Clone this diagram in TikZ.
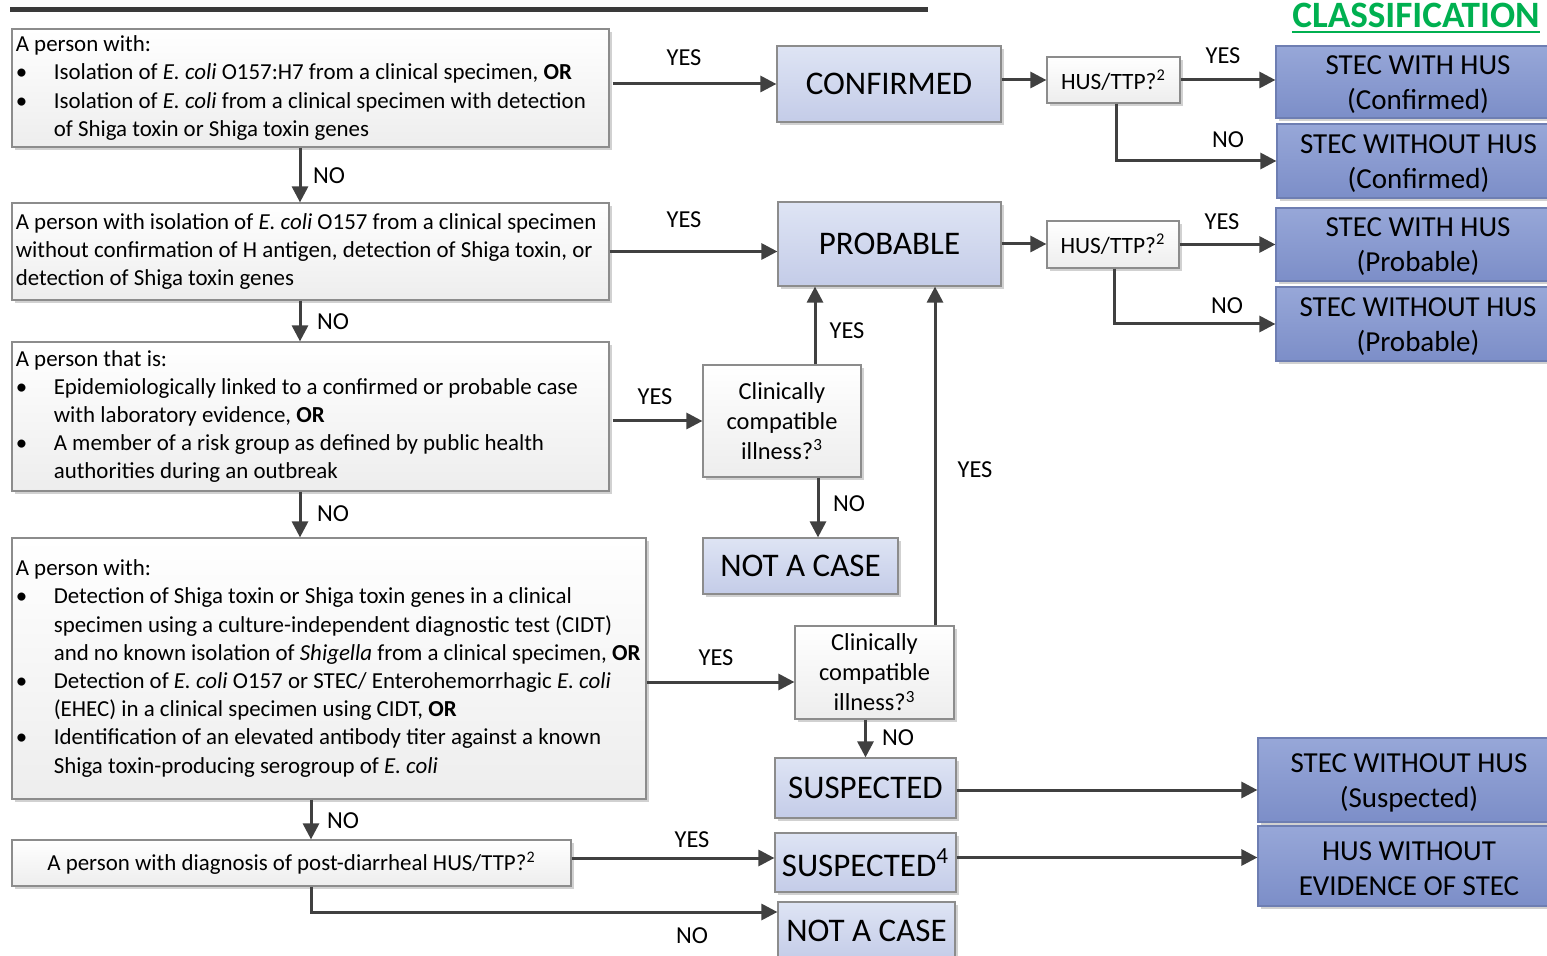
\documentclass[tikz,border=0pt]{standalone}
\usepackage{fontspec}
\setmainfont{Carlito}
\usetikzlibrary{arrows.meta,shadows,calc}
\definecolor{arrc}{HTML}{404040}
\definecolor{gbord}{HTML}{8C8C8C}
\definecolor{lbtop}{HTML}{DEE4F4}
\definecolor{lbbot}{HTML}{C4CCE8}
\definecolor{dbtop}{HTML}{97A7D8}
\definecolor{dbbot}{HTML}{7C8EC8}
\definecolor{dbord}{HTML}{6E7EB2}
\definecolor{clsgreen}{HTML}{00B050}
\newcommand{\mybul}{\makebox[19pt][l]{\textbullet}}
\newcommand{\myind}{\hspace*{19pt}}
\newcommand{\dstrut}{\rule{0pt}{11.9pt}}
\begin{document}
\begin{tikzpicture}[x=0.5pt,y=-0.5pt,
  shad/.style={drop shadow={shadow xshift=1.5pt,shadow yshift=-1.5pt,fill=black,opacity=0.18}},
  gbox/.style={draw=gbord, line width=0.6pt, top color=white, bottom color=gray!14, shad, inner sep=0pt},
  lbox/.style={draw=gbord, line width=0.6pt, top color=lbtop, bottom color=lbbot, shad, inner sep=0pt},
  dbox/.style={draw=dbord, line width=0.6pt, top color=dbtop, bottom color=dbbot, shad, inner sep=0pt},
  body/.style={font=\fontsize{11.45}{14.1}\selectfont, align=left, inner sep=0pt, anchor=west},
  big/.style={font=\fontsize{16.5}{19}\selectfont},
  dtext/.style={font=\fontsize{14.5}{17.5}\selectfont, align=center},
  ctext/.style={font=\fontsize{12.2}{15}\selectfont, align=center},
  htext/.style={font=\fontsize{11.7}{14}\selectfont},
  lab/.style={font=\fontsize{12.2}{14}\selectfont, inner sep=0pt},
  arr/.style={draw=arrc, line width=1.5pt, -{Triangle[length=8pt,width=8pt]}},
  plain/.style={draw=arrc, line width=1.5pt}]
\useasboundingbox (0,0) rectangle (1547,956);
\clip (0,0) rectangle (1547,956);
% top rule
\draw[line width=2.5pt, draw=arrc!90!black] (10,10) -- (928,10);
% heading
\node[inner sep=0pt, text=clsgreen, font=\fontsize{18.6}{20}\selectfont\bfseries] (cls) at (1416,15) {CLASSIFICATION};
\draw[clsgreen, line width=1pt] ([yshift=-2.3pt]cls.base west) -- ([yshift=-2.3pt]cls.base east);

% left boxes
\node[gbox, minimum width=298.5pt, minimum height=59pt] (b1) at (310.5,88) {};
\node[body] (b1t) at ([xshift=2pt]b1.west) {A person with:\\
\mybul Isolation of \textit{E. coli} O157:H7 from a clinical specimen, \textbf{OR}\\
\mybul Isolation of \textit{E. coli} from a clinical specimen with detection\\
\myind of Shiga toxin or Shiga toxin genes};

\node[gbox, minimum width=298.5pt, minimum height=48.5pt] (b2) at (310.5,251.5) {};
\node[body] (b2t) at ([xshift=2pt]b2.west) {A person with isolation of \textit{E. coli} O157 from a clinical specimen\\
without confirmation of H antigen, detection of Shiga toxin, or\\
detection of Shiga toxin genes};

\node[gbox, minimum width=298.5pt, minimum height=74.5pt] (b3) at (310.5,416.5) {};
\node[body] (b3t) at ([xshift=2pt]b3.west) {A person that is:\\
\mybul Epidemiologically linked to a confirmed or probable case\\
\myind with laboratory evidence, \textbf{OR}\\
\mybul A member of a risk group as defined by public health\\
\myind authorities during an outbreak};

\node[gbox, minimum width=317pt, minimum height=130.5pt] (b4) at (329,668.5) {};
\node[body] (b4t) at ([xshift=2pt]b4.west) {A person with:\\
\mybul Detection of Shiga toxin or Shiga toxin genes in a clinical\\
\myind specimen using a culture-independent diagnostic test (CIDT)\\
\myind and no known isolation of \textit{Shigella} from a clinical specimen, \textbf{OR}\\
\mybul Detection of \textit{E. coli} O157 or STEC/ Enterohemorrhagic \textit{E. coli}\\
\myind (EHEC) in a clinical specimen using CIDT, \textbf{OR}\\
\mybul Identification of an elevated antibody titer against a known\\
\myind Shiga toxin-producing serogroup of \textit{E. coli}};

\node[gbox, minimum width=279.5pt, minimum height=23pt, font=\fontsize{11.45}{14.1}\selectfont] (b5) at (291.5,863) {A person with diagnosis of post-diarrheal HUS/TTP?\textsuperscript{2}};

% question boxes
\node[gbox, ctext, minimum width=79pt, minimum height=56pt] (c1) at (782,421) {Clinically\\compatible\\illness?\textsuperscript{3}};
\node[gbox, ctext, minimum width=79.5pt, minimum height=46.5pt] (c2) at (874.5,672.5) {Clinically\\compatible\\illness?\textsuperscript{3}};
\node[gbox, htext, minimum width=66.5pt, minimum height=23pt] (h1) at (1113.5,80) {HUS/TTP?\textsuperscript{2}};
\node[gbox, htext, minimum width=66pt, minimum height=23.5pt] (h2) at (1113,244.5) {HUS/TTP?\textsuperscript{2}};

% light blue boxes
\node[lbox, big, minimum width=112pt, minimum height=38pt] (conf) at (889,84) {CONFIRMED};
\node[lbox, big, minimum width=111.5pt, minimum height=42pt] (prob) at (889.5,244) {PROBABLE};
\node[lbox, big, minimum width=97.5pt, minimum height=28pt] (nac1) at (800.5,566) {NOT A CASE};
\node[lbox, big, minimum width=90.5pt, minimum height=30pt] (sus1) at (865.5,788) {SUSPECTED};
\node[lbox, big, minimum width=90.5pt, minimum height=29.5pt] (sus2) at (865.5,862.5) {SUSPECTED\textsuperscript{4}};
\node[lbox, big, minimum width=88.5pt, minimum height=29pt] (nac2) at (866.5,931) {NOT A CASE};

% dark blue boxes
\node[dbox, dtext, minimum width=142pt, minimum height=36pt] (d1) at (1418,82) {\dstrut STEC WITH HUS\\(Confirmed)};
\node[dbox, dtext, minimum width=141.5pt, minimum height=37pt] (d2) at (1418.5,161) {\dstrut STEC WITHOUT HUS\\(Confirmed)};
\node[dbox, dtext, minimum width=142pt, minimum height=36.5pt] (d3) at (1418,244.5) {\dstrut STEC WITH HUS\\(Probable)};
\node[dbox, dtext, minimum width=142pt, minimum height=37pt] (d4) at (1418,324) {\dstrut STEC WITHOUT HUS\\(Probable)};
\node[dbox, dtext, minimum width=151pt, minimum height=42pt] (d5) at (1409,780) {\dstrut STEC WITHOUT HUS\\(Suspected)};
\node[dbox, dtext, minimum width=151pt, minimum height=40pt] (d6) at (1409,866) {\dstrut HUS WITHOUT\\EVIDENCE OF STEC};

% connectors
\draw[arr] ([xshift=1.5pt]b1.east |- conf.west) -- (conf.west);
\draw[arr] ([xshift=-5.25pt]b1.south) -- ([xshift=-5.25pt]b1.south |- b2.north);
\draw[arr] (b2.east) -- (b2.east -| prob.west);
\draw[arr] ([xshift=-5.25pt]b2.south) -- ([xshift=-5.25pt]b2.south |- b3.north);
\draw[arr] ([xshift=1.5pt]b3.east |- c1.west) -- (c1.west);
\draw[arr] ([xshift=16.5pt]c1.north) -- ([xshift=16.5pt]c1.north |- prob.south);
\draw[arr] ([xshift=18pt]c1.south) -- ([xshift=18pt]c1.south |- nac1.north);
\draw[arr] ([xshift=-5.25pt]b3.south) -- ([xshift=-5.25pt]b3.south |- b4.north);
\draw[arr] ([yshift=-4.75pt]c2.west -| b4.east) -- ([yshift=-4.75pt]c2.west);
\draw[arr] ([xshift=30.25pt]c2.north) -- ([xshift=30.25pt]c2.north |- prob.south);
\draw[arr] (sus1.north |- c2.south) -- (sus1.north);
\draw[arr] ([yshift=-1pt]sus1.east) -- ([yshift=-1pt]sus1.east -| d5.west);
\draw[arr] ([xshift=-9pt]b4.south) -- ([xshift=-9pt]b4.south |- b5.north);
\draw[arr] ([yshift=2.5pt]b5.east) -- ([yshift=2.5pt]b5.east -| sus2.west);
\draw[arr] ([xshift=9.75pt]b5.south) |- ([yshift=9.5pt]nac2.west);
\draw[arr] ([yshift=2.5pt]sus2.east) -- ([yshift=2.5pt]sus2.east -| d6.west);
\draw[arr] (conf.east |- h1.west) -- (h1.west);
\draw[arr] (h1.east) -- (h1.east -| d1.west);
\draw[arr] ([xshift=1.25pt]h1.south) |- (d2.west);
\draw[arr] (prob.east) -- (prob.east -| h2.west);
\draw[arr] (h2.east) -- (h2.east -| d3.west);
\draw[arr] ([xshift=0.5pt]h2.south) |- (d4.west);

% labels
\node[lab] (y1) at (684,58) {YES};
\node[lab] (n1) at (329,176) {NO};
\node[lab] (y2) at (684,220) {YES};
\node[lab] (n2) at (333,322) {NO};
\node[lab] (y3) at (655,397) {YES};
\node[lab] (y4) at (847,331) {YES};
\node[lab] (n3) at (849,504) {NO};
\node[lab] (n4) at (333,514) {NO};
\node[lab] (y5) at (716,658) {YES};
\node[lab] (y6) at (975,470) {YES};
\node[lab] (n5) at (898,738) {NO};
\node[lab] (n6) at (343,821) {NO};
\node[lab] (y7) at (692,840) {YES};
\node[lab] (n7) at (692,936) {NO};
\node[lab] (y8) at (1223,56) {YES};
\node[lab] (n8) at (1228,140) {NO};
\node[lab] (y9) at (1222,222) {YES};
\node[lab] (n9) at (1227,306) {NO};
\end{tikzpicture}
\end{document}
